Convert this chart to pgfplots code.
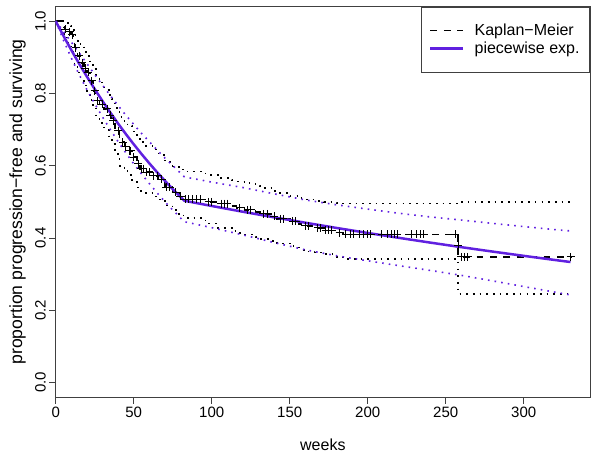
\documentclass[border=0pt]{standalone}
\usepackage{fontspec}
\setmainfont{Liberation Sans}
\usepackage{pgfplots}
\pgfplotsset{compat=1.18}
\usepackage{pgfplotstable}
\definecolor{pwblue}{RGB}{96,32,224}

\pgfplotstableread{
t s lo up
0 1.000 1.000 1.000
5 0.985 0.965 0.999
6 0.977 0.955 0.995
8 0.970 0.940 0.990
10 0.963 0.922 0.986
11 0.945 0.902 0.975
12 0.927 0.882 0.960
14 0.904 0.858 0.945
16 0.885 0.839 0.930
18 0.870 0.822 0.915
20 0.858 0.803 0.904
22 0.835 0.782 0.885
24 0.807 0.761 0.867
26 0.780 0.734 0.848
28 0.770 0.718 0.830
31 0.757 0.700 0.810
34 0.740 0.676 0.795
36 0.725 0.660 0.784
38 0.697 0.632 0.760
41 0.665 0.600 0.735
44 0.652 0.586 0.720
46 0.642 0.575 0.710
49 0.624 0.555 0.695
52 0.605 0.540 0.680
54 0.591 0.530 0.665
57 0.582 0.524 0.655
62 0.572 0.515 0.645
66 0.562 0.507 0.630
70 0.541 0.490 0.610
75 0.527 0.478 0.598
79 0.515 0.466 0.590
82 0.507 0.455 0.584
96 0.500 0.440 0.575
104 0.495 0.428 0.566
113 0.488 0.420 0.560
116 0.483 0.414 0.556
121 0.478 0.410 0.552
128 0.472 0.402 0.545
131 0.467 0.398 0.538
139 0.460 0.392 0.530
142 0.453 0.385 0.525
150 0.446 0.377 0.517
156 0.439 0.368 0.510
159 0.434 0.363 0.506
166 0.428 0.360 0.503
172 0.421 0.355 0.500
180 0.415 0.348 0.497
184 0.410 0.342 0.495
258 0.348 0.245 0.4997
331 0.348 0.245 0.4997
}\km

\pgfplotstableread{
t s
6 0.977
9 0.970
10.5 0.963
13 0.927
15 0.904
17 0.885
19 0.870
21 0.858
23 0.835
25 0.807
27 0.780
30 0.770
33 0.757
35 0.740
37 0.725
40 0.697
43 0.665
45 0.652
47 0.642
48 0.642
50 0.624
53 0.605
55 0.591
56 0.591
58 0.582
60 0.582
63 0.572
65 0.572
68 0.562
71 0.541
73 0.541
77 0.527
80 0.515
83 0.507
85 0.507
88 0.507
90 0.507
93 0.507
98 0.500
100 0.500
106 0.495
108 0.495
110 0.495
118 0.483
123 0.478
125 0.478
133 0.467
136 0.467
140 0.460
144 0.453
146 0.453
152 0.446
154 0.446
160 0.434
162 0.434
168 0.428
170 0.428
173 0.421
175 0.421
177 0.421
182 0.415
186 0.410
189 0.410
191 0.410
195 0.410
197 0.410
200 0.410
202 0.410
209 0.410
213 0.410
215 0.410
217 0.410
219 0.410
228 0.410
231 0.410
234 0.410
236 0.410
256 0.410
258 0.378
260 0.348
262 0.348
264 0.348
330 0.348
}\cens

\pgfplotstableread{
t s lo up
0 1.0000 1.0000 1.0000
5 0.9592 0.9472 0.9712
10 0.9201 0.8981 0.9421
15 0.8825 0.8525 0.9125
20 0.8465 0.8105 0.8825
25 0.8120 0.7720 0.8520
30 0.7789 0.7349 0.8229
35 0.7471 0.7001 0.7941
40 0.7166 0.6666 0.7666
45 0.6874 0.6354 0.7394
50 0.6594 0.6054 0.7144
55 0.6325 0.5775 0.6895
60 0.6067 0.5507 0.6667
65 0.5819 0.5249 0.6439
70 0.5582 0.5002 0.6212
75 0.5354 0.4774 0.6004
80 0.5136 0.4556 0.5796
82.5 0.5030 0.4450 0.5690
100 0.4886 0.4286 0.5546
120 0.4726 0.4086 0.5396
140 0.4572 0.3872 0.5222
160 0.4423 0.3673 0.5053
180 0.4278 0.3508 0.4918
200 0.4139 0.3369 0.4799
220 0.4004 0.3234 0.4684
240 0.3873 0.3103 0.4583
260 0.3746 0.2966 0.4496
280 0.3624 0.2814 0.4404
300 0.3506 0.2656 0.4316
320 0.3391 0.2501 0.4231
330 0.3335 0.2425 0.4195
}\pw

\begin{document}
\begin{tikzpicture}
\begin{axis}[
  scale only axis, width=534.3pt, height=390.3pt,
  xmin=0, xmax=342.5, ymin=-0.04, ymax=1.04,
  axis line style={black!75, line width=0.8pt},
  xtick={0,50,100,150,200,250,300},
  ytick={0,0.2,0.4,0.6,0.8,1},
  tick align=outside, major tick length=6.5pt,
  tick style={black!75, line width=0.8pt},
  xtick pos=bottom, ytick pos=left,
  /pgf/number format/assume math mode=true,
  yticklabel style={/pgf/number format/fixed, /pgf/number format/fixed zerofill, /pgf/number format/precision=1},
  y tick label style={rotate=90, anchor=south},
  tick label style={font=\fontsize{15}{18}\selectfont},
  xlabel={weeks},
  ylabel={proportion progression−free and surviving},
  every axis y label/.style={at={(axis description cs:-0.063,0.5)}, anchor=base, rotate=90, font=\fontsize{17.6}{21}\selectfont},
  every axis x label/.style={at={(axis description cs:0.5,0)}, anchor=base, yshift=-53pt, font=\fontsize{16}{19}\selectfont},
  legend image code/.code={\draw[#1] (0pt,0pt) -- (33pt,0pt);},
  legend style={at={(1,1)}, anchor=north east, draw=black!75, line width=0.8pt,
    font=\fontsize{16}{19}\selectfont, inner xsep=8pt, inner ysep=15pt, row sep=1pt,
    cells={anchor=west}, /tikz/every odd column/.append style={column sep=8pt}},
]
\addplot[forget plot, const plot, black, line width=1.6pt, dash pattern=on 1.6pt off 5.1pt] table[x=t,y=lo]{\km};
\addplot[forget plot, const plot, black, line width=1.6pt, dash pattern=on 1.6pt off 5.1pt] table[x=t,y=up]{\km};
\addplot[forget plot, const plot, black, line width=1.6pt, dash pattern=on 6.7pt off 6.7pt] table[x=t,y=s]{\km};
\addplot[forget plot, only marks, mark=+, mark size=4pt, black, mark options={line width=1pt, solid}] table[x=t,y=s]{\cens};
\addplot[forget plot, pwblue, line width=1.6pt, dash pattern=on 1.6pt off 5.1pt] table[x=t,y=lo]{\pw};
\addplot[forget plot, pwblue, line width=1.6pt, dash pattern=on 1.6pt off 5.1pt] table[x=t,y=up]{\pw};
\addplot[forget plot, pwblue, line width=2.5pt] table[x=t,y=s]{\pw};
\addlegendimage{black, line width=1.6pt, dash pattern=on 6.7pt off 6.7pt}
\addlegendentry{Kaplan−Meier}
\addlegendimage{pwblue, line width=2.5pt}
\addlegendentry{piecewise exp.}
\end{axis}
\pgfresetboundingbox
\path[use as bounding box] (current axis.south west) ++(-55.7pt,-58pt) rectangle ++(600pt,455pt);
\end{tikzpicture}
\end{document}
